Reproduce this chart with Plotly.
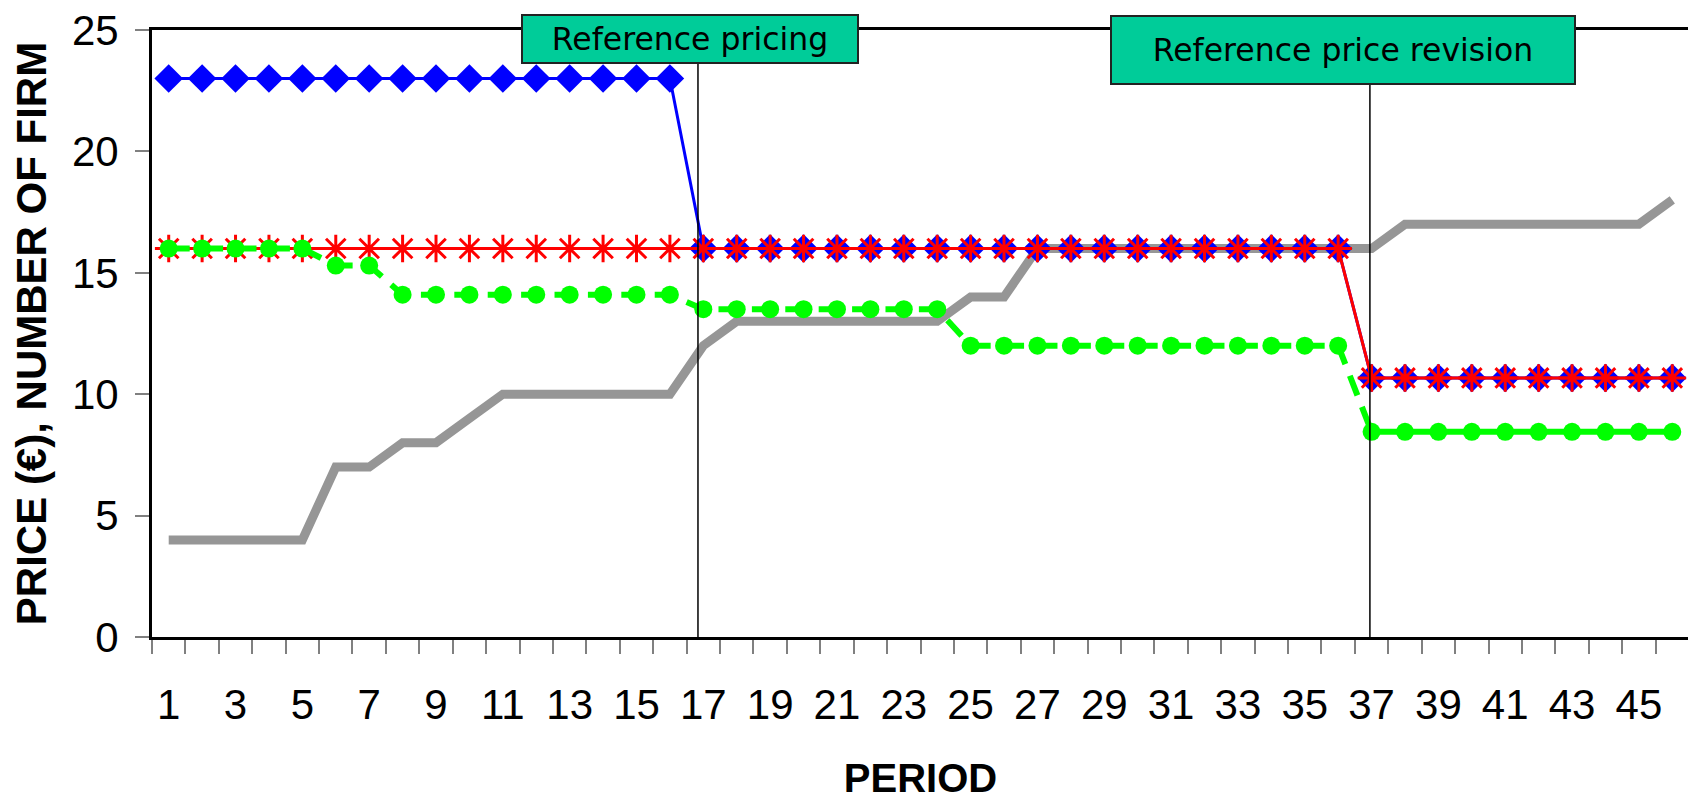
import plotly.graph_objects as go

# ---- data ----
periods = list(range(1, 47))

price_blue = [23, 23, 23, 23, 23, 23, 23, 23, 23, 23, 23, 23, 23, 23, 23, 23,
              16, 16, 16, 16, 16, 16, 16, 16, 16, 16, 16, 16, 16, 16, 16, 16, 16, 16, 16, 16,
              10.67, 10.67, 10.67, 10.67, 10.67, 10.67, 10.67, 10.67, 10.67, 10.67]

price_red = [16, 16, 16, 16, 16, 16, 16, 16, 16, 16, 16, 16, 16, 16, 16, 16,
             16, 16, 16, 16, 16, 16, 16, 16, 16, 16, 16, 16, 16, 16, 16, 16, 16, 16, 16, 16,
             10.67, 10.67, 10.67, 10.67, 10.67, 10.67, 10.67, 10.67, 10.67, 10.67]

price_green = [16, 16, 16, 16, 16, 15.3, 15.3,
               14.1, 14.1, 14.1, 14.1, 14.1, 14.1, 14.1, 14.1, 14.1,
               13.5, 13.5, 13.5, 13.5, 13.5, 13.5, 13.5, 13.5,
               12, 12, 12, 12, 12, 12, 12, 12, 12, 12, 12, 12,
               8.45, 8.45, 8.45, 8.45, 8.45, 8.45, 8.45, 8.45, 8.45, 8.45]

number_of_firms = [4, 4, 4, 4, 4, 7, 7, 8, 8, 9, 10, 10, 10, 10, 10, 10,
                   12, 13, 13, 13, 13, 13, 13, 13, 14, 14,
                   16, 16, 16, 16, 16, 16, 16, 16, 16, 16, 16,
                   17, 17, 17, 17, 17, 17, 17, 17, 18]

x_tick_labels = [str(p) for p in range(1, 46, 2)]
y_tick_values = [0, 5, 10, 15, 20, 25]

event_periods = [17, 37]
event_labels = ["Reference pricing", "Reference price revision"]

# ---- figure ----
fig = go.Figure()

fig.add_trace(go.Scatter(
    x=periods, y=number_of_firms, mode="lines",
    line=dict(color="#969696", width=9), showlegend=False, hoverinfo="skip"))

fig.add_trace(go.Scatter(
    x=periods, y=price_blue, mode="lines+markers",
    line=dict(color="#0000FF", width=3),
    marker=dict(symbol="diamond", size=22, color="#0000FF", line=dict(width=0)),
    showlegend=False))

fig.add_trace(go.Scatter(
    x=periods, y=price_red, mode="lines+markers",
    line=dict(color="#FF0000", width=3),
    marker=dict(symbol="asterisk-open", size=23, color="#FF0000",
                line=dict(color="#FF0000", width=3)),
    showlegend=False))

fig.add_trace(go.Scatter(
    x=periods, y=price_green, mode="lines+markers",
    line=dict(color="#00FF00", width=6, dash="21px,12.4px"),
    marker=dict(symbol="circle", size=18, color="#00FF00", line=dict(width=0)),
    showlegend=False))

# event lines and labels
line_offset = [-0.16, -0.05]
event_shift = [-13, -29]
event_box = [(334, 46), (462, 66)]
event_y = [0.985, 0.967]
for p, lab, off, dx, (bw, bh), yy in zip(event_periods, event_labels, line_offset,
                                         event_shift, event_box, event_y):
    fig.add_shape(type="line", xref="x", yref="paper", x0=p + off, x1=p + off,
                  y0=0, y1=1, line=dict(color="black", width=1.5), layer="above")
    fig.add_annotation(
        x=p, xref="x", y=yy, yref="paper", xshift=dx,
        text=lab, showarrow=False,
        font=dict(family="DejaVu Sans", size=31.5, color="black"),
        bgcolor="#00CC99", bordercolor="#222222", borderwidth=2, borderpad=0,
        width=bw, height=bh, align="center", valign="middle",
        xanchor="center", yanchor="middle")

# the page body adds an 8px offset, so the figure is 8px smaller and margins shifted
fig.update_layout(
    width=1688, height=792,
    margin=dict(l=144, r=7, t=22, b=163, autoexpand=False),
    paper_bgcolor="white", plot_bgcolor="white",
    showlegend=False,
    font=dict(family="Liberation Sans, Arial", color="black"),
)

fig.update_xaxes(
    range=[0.5, 46.5], tickmode="array",
    tickvals=[int(v) for v in x_tick_labels], ticktext=x_tick_labels,
    ticks="", ticklabelstandoff=29, ticklabeloverflow="allow",
    tickfont=dict(family="Liberation Sans, Arial", size=42, color="black"),
    minor=dict(ticks="outside", tickmode="array",
               tickvals=[p - 0.5 for p in periods] + [46.5],
               ticklen=14, tickwidth=1.5, tickcolor="#808080"),
    showgrid=False, zeroline=False, automargin=False,
    showline=True, mirror=True, linecolor="black", linewidth=3,
    title=dict(text="<b>PERIOD</b>", standoff=57,
               font=dict(family="Liberation Sans Narrow, Liberation Sans, Arial", size=40, color="black")),
)

fig.update_yaxes(
    range=[0, 25], tickmode="array", tickvals=y_tick_values,
    ticks="outside", ticklen=14, tickwidth=1.5, tickcolor="#808080",
    ticklabelstandoff=8, ticklabeloverflow="allow",
    tickfont=dict(family="Liberation Sans, Arial", size=42, color="black"),
    showgrid=False, zeroline=False, automargin=False,
    showline=True, mirror=True, linecolor="black", linewidth=3,
    title=dict(text="<b>PRICE (€), NUMBER OF FIRM</b>", standoff=16,
               font=dict(family="Liberation Sans, Arial", size=42, color="black")),
)

fig.write_html("out.html")
